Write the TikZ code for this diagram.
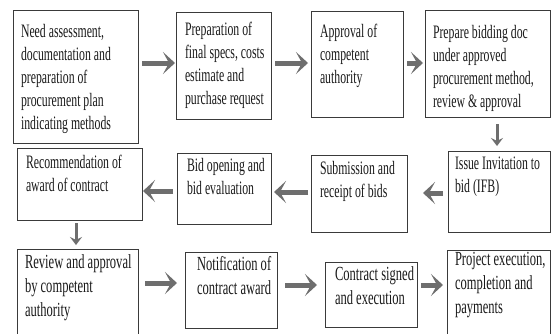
\documentclass[tikz,border=0pt]{standalone}
\usepackage{fontspec}
\setmainfont{Liberation Serif}[FakeStretch=0.62]
\newfontfamily\rowthreefont{Liberation Serif}[FakeStretch=0.627]
\usetikzlibrary{arrows.meta,calc}
\definecolor{arrowgray}{HTML}{6E6E6E}
\definecolor{framegray}{HTML}{3A3A3A}
\definecolor{textdark}{HTML}{1A1A1A}
\newcommand{\bt}[5]{\vbox to #2pt{\vskip#4pt\hbox to #1pt{\hskip#3pt\begin{tabular}[t]{@{}l@{}}#5\end{tabular}\hss}\vss}}
\tikzset{
  stepbox/.style={draw=framegray,line width=0.8pt,inner sep=0pt,outer sep=0pt,anchor=north west,text=textdark,font=\fontsize{19}{23}\selectfont},
  lowbox/.style={stepbox,font=\rowthreefont\fontsize{20}{24}\selectfont},
  bigarrow/.style={draw=arrowgray,line width=5pt,-{Stealth[length=12pt,width=22pt,inset=6pt]}},
  downarrow/.style={draw=arrowgray,line width=3pt,-{Stealth[length=8pt,width=12pt,inset=3pt]}}
}
\begin{document}
\begin{tikzpicture}[x=1pt,y=-1pt]
\useasboundingbox (0,0) rectangle (551,333);
\clip (0,0) rectangle (551,333);
\fill[white] (0,0) rectangle (551,333);
% row 1
\node[stepbox] (n1) at (13,10) {\bt{125}{133}{8}{11}{Need assessment,\\documentation and\\preparation of\\procurement plan\\indicating methods}};
\node[stepbox] (n2) at (176,12) {\bt{95}{107}{9}{7}{Preparation of\\final specs, costs\\estimate and\\purchase request}};
\node[stepbox] (n3) at (311,11) {\bt{92}{106}{9}{10}{Approval of\\competent\\authority}};
\node[stepbox] (n4) at (425,10) {\bt{125}{107}{8}{12}{Prepare bidding doc\\under approved\\procurement method,\\review \& approval}};
% row 2
\node[stepbox] (n5) at (448,151) {\bt{102}{81}{7}{2}{Issue Invitation to\\bid (IFB)}};
\node[stepbox] (n6) at (311,155) {\bt{96}{77}{9}{3}{Submission and\\receipt of bids}};
\node[stepbox] (n7) at (177,153) {\bt{94}{71}{10}{2}{Bid opening and\\bid evaluation}};
\node[stepbox] (n8) at (17,148) {\bt{125}{72}{9}{4}{Recommendation of\\award of contract}};
% row 3
\node[lowbox] (n9) at (17,249) {\bt{121}{100}{8}{3}{Review and approval\\by competent\\authority}};
\node[lowbox] (n10) at (185,252) {\bt{92}{76}{12}{2}{Notification of\\contract award}};
\node[lowbox] (n11) at (325,262) {\bt{92}{65}{10}{2}{Contract signed\\and execution}};
\node[lowbox] (n12) at (447,250) {\bt{103}{100}{8}{-1}{Project execution,\\completion and\\payments}};
% arrows
\draw[bigarrow] ($(n1.north east)+(4,53)$) -- ($(n2.north west)+(-1,51)$);
\draw[bigarrow] ($(n2.north east)+(4,51)$) -- ($(n3.north west)+(-3,52)$);
\draw[bigarrow] ($(n3.north east)+(4,52)$) -- ($(n4.north west)+(-2,53)$);
\draw[downarrow] ($(n4.south east)+(-53,7)$) -- ($(n5.north west)+(49,-5)$);
\draw[bigarrow] ($(n5.north west)+(-5,42)$) -- ($(n6.north east)+(16,38)$);
\draw[bigarrow] ($(n6.north west)+(-3,37)$) -- ($(n7.north east)+(3,39)$);
\draw[bigarrow] ($(n7.north west)+(-4,38)$) -- ($(n8.north east)+(1,43)$);
\draw[downarrow] ($(n8.south west)+(59,3)$) -- ($(n9.north west)+(59,-4)$);
\draw[bigarrow] ($(n9.north east)+(7,34)$) -- ($(n10.north west)+(-8,31)$);
\draw[bigarrow] ($(n10.north east)+(8,33)$) -- ($(n11.north west)+(-8,23)$);
\draw[bigarrow] ($(n11.north east)+(4,23)$) -- ($(n12.north west)+(-4,35)$);
\end{tikzpicture}
\end{document}
